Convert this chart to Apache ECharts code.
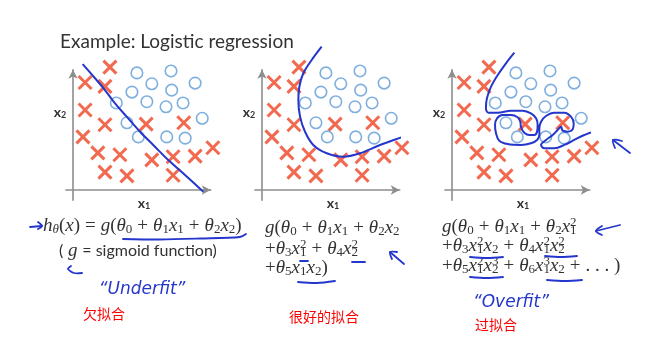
<!DOCTYPE html>
<html>
<head>
<meta charset="utf-8">
<script src="https://cdn.jsdelivr.net/npm/echarts@6/dist/echarts.min.js"></script>
<style>
html, body { margin: 0; padding: 0; background: #fff; }
#chart { width: 670px; height: 342px; }
</style>
</head>
<body>
<div id="chart"></div>
<script>
// Training examples in (x1, x2) feature space
const crossPoints = [
  [2.6, 9.6], [0.85, 8.4], [2.25, 8.1], [0.85, 6.25], [2.25, 5.1], [5.15, 5.15],
  [7.8, 5.25], [0.7, 4.15], [1.75, 2.9], [3.3, 2.75], [5.55, 2.35], [7.05, 2.6],
  [8.6, 2.65], [9.85, 3.3], [2.25, 1.4], [3.8, 1.1], [7.05, 1.15]
];
const circlePoints = [
  [4.5, 9.15], [6.9, 9.3], [5.55, 8.3], [8.6, 8.35], [4.15, 7.65], [6.95, 7.8],
  [3.05, 6.8], [5.2, 6.9], [6.55, 6.5], [7.75, 6.8], [9.1, 5.6], [3.8, 5.25],
  [4.6, 4.15], [6.6, 4.15], [7.9, 4.05]
];

// Decision boundaries of the three hypotheses
const underfitBoundary = [
  [0.68, 9.84], [1.55, 8.73], [2.25, 7.81], [2.96, 6.77], [3.78, 5.73],
  [4.72, 4.55], [5.65, 3.52], [6.71, 2.34], [7.89, 1.17], [9.18, -0.13]
];
const goodFitBoundary = [
  [4.2, 11.2], [3.5, 10.16], [2.91, 9.12], [2.63, 8.07], [2.56, 7.03], [2.68, 5.73],
  [3.03, 4.55], [3.61, 3.52], [4.56, 2.87], [5.73, 2.6], [6.9, 2.87], [8.31, 3.52],
  [9.95, 4.17], [11.48, 4.82]
];
const overfitBoundary = [
  [4.39, 10.73], [3.8, 9.9], [3.22, 8.98], [2.75, 8.07], [2.46, 7.16], [2.39, 6.38],
  [2.56, 6.04], [3.22, 6.04], [4.15, 6.2], [4.98, 6.2], [5.56, 5.99], [5.92, 5.6],
  [6.03, 5.08], [5.99, 4.56], [5.8, 4.3], [5.45, 4.3], [5.09, 4.48], [4.86, 4.9],
  [4.81, 5.34], [4.62, 5.68], [4.15, 5.86], [3.57, 5.86], [3.17, 5.6], [3.03, 5.08],
  [3.1, 4.43], [3.33, 3.85], [3.92, 3.59], [4.86, 3.52], [5.56, 3.65], [5.99, 3.91],
  [6.15, 4.3], [6.15, 4.82], [6.27, 5.34], [6.62, 5.78], [7.21, 6.04], [7.91, 6.04],
  [8.38, 5.73], [8.57, 5.21], [8.5, 4.74], [8.15, 4.56], [7.79, 4.64], [7.68, 4.95],
  [7.44, 4.69], [7.09, 4.3], [6.62, 3.91], [6.27, 3.52], [6.5, 3.26], [7.21, 3.26],
  [7.91, 3.52], [8.61, 3.91], [9.32, 4.3], [10.26, 4.64], [10.96, 4.69], [11.55, 5.16]
];
const boundaries = [underfitBoundary, goodFitBoundary, overfitBoundary];

// Text
const titleText = 'Example: Logistic regression';
const fitLabels = ['欠拟合', '很好的拟合', '过拟合'];
const handNotes = ['\u201CUnderfit\u201D', '\u201COverfit\u201D'];

const RED = '#ee4524';
const BLUE_O = '#5e9bd6';
const INK = '#2436cc';
const TXT = '#333333';

const panelOrigins = [73, 262, 452];
const PX_X = 14.2, PX_Y = 12.8, ORIGIN_Y = 190;
const X_MIN = -0.5, X_MAX = 9.7, Y_MIN = -0.8, Y_MAX = 9.4;

const grids = [], xAxes = [], yAxes = [], series = [];
panelOrigins.forEach((ox, i) => {
  grids.push({
    left: ox + X_MIN * PX_X,
    top: ORIGIN_Y - Y_MAX * PX_Y,
    width: (X_MAX - X_MIN) * PX_X,
    height: (Y_MAX - Y_MIN) * PX_Y
  });
  const axisLine = {
    show: true, onZero: true,
    symbol: ['none', 'arrow'], symbolSize: [7, 9],
    lineStyle: { color: '#8d8d8d', width: 1.6 }
  };
  xAxes.push({
    type: 'value', gridIndex: i, min: X_MIN, max: X_MAX,
    axisLine, axisTick: { show: false }, axisLabel: { show: false }, splitLine: { show: false }
  });
  yAxes.push({
    type: 'value', gridIndex: i, min: Y_MIN, max: Y_MAX,
    axisLine, axisTick: { show: false }, axisLabel: { show: false }, splitLine: { show: false }
  });
  series.push({
    type: 'line', xAxisIndex: i, yAxisIndex: i, data: boundaries[i],
    showSymbol: false, smooth: 0.35, clip: false, z: 4,
    lineStyle: { color: INK, width: 2 }
  });
  series.push({
    type: 'scatter', xAxisIndex: i, yAxisIndex: i, data: crossPoints,
    symbol: 'path://M0,0L10,10M0,10L10,0', symbolSize: 13, clip: false, z: 3,
    itemStyle: { color: 'rgba(0,0,0,0)', borderColor: RED, borderWidth: 3 }
  });
  series.push({
    type: 'scatter', xAxisIndex: i, yAxisIndex: i, data: circlePoints,
    symbol: 'circle', symbolSize: 11.5, clip: false, z: 3,
    itemStyle: { color: 'rgba(255,255,255,0)', borderColor: BLUE_O, borderWidth: 1.6 }
  });
});

// Rich-text styles for the hypothesis formulas
const SERIF = 'Liberation Serif';
const FS = 19, SFS = 13;
const rich = {
  i: { fontFamily: SERIF, fontStyle: 'italic', fontSize: FS, fill: TXT },
  r: { fontFamily: SERIF, fontSize: FS, fill: TXT },
  op: { fontFamily: SERIF, fontSize: FS, fill: TXT, padding: [0, 5, 0, 5] },
  sb: { fontFamily: SERIF, fontSize: SFS, fill: TXT, padding: [8, 0, 0, 0] },
  sbi: { fontFamily: SERIF, fontStyle: 'italic', fontSize: SFS, fill: TXT, padding: [8, 0, 0, 0] },
  sbz: { fontFamily: SERIF, fontSize: SFS, fill: TXT, padding: [8, 0, 0, 0], width: 0, align: 'left' },
  sp: { fontFamily: SERIF, fontSize: SFS, fill: TXT, padding: [0, 0, 9, 0] },
  t: { fontFamily: 'Lato', fontSize: 16, fill: TXT }
};
const th = n => '{i|θ}{sb|' + n + '}';
const xs = n => '{i|x}{sb|' + n + '}';
const xp = (n, p) => '{i|x}{sbz|' + n + '}{sp|' + p + '}';
const plus = '{op|+}';

const formulaLines = [
  { x: 43, y: 226, text: '{i|h}{sbi|θ}{r|(}{i|x}{r|)}{op|=}{i|g}{r|(}' + th(0) + plus + th(1) + xs(1) + plus + th(2) + xs(2) + '{r|)}' },
  { x: 59, y: 251, text: '{t|(}{i| g }{t|= sigmoid function)}' },
  { x: 265, y: 228, text: '{i|g}{r|(}' + th(0) + plus + th(1) + xs(1) + plus + th(2) + xs(2) },
  { x: 265, y: 249, text: '{r|+}' + th(3) + xp(1, 2) + plus + th(4) + xp(2, 2) },
  { x: 265, y: 268, text: '{r|+}' + th(5) + xs(1) + xs(2) + '{r|)}' },
  { x: 442, y: 227, text: '{i|g}{r|(}' + th(0) + plus + th(1) + xs(1) + plus + th(2) + xp(1, 2) },
  { x: 442, y: 246, text: '{r|+}' + th(3) + xp(1, 2) + xs(2) + plus + th(4) + xp(1, 2) + xp(2, 2) },
  { x: 442, y: 266, text: '{r|+}' + th(5) + xp(1, 2) + xp(2, 3) + plus + th(6) + xp(1, 3) + xs(2) + plus + '{r|. . . )}' }
];

const graphics = [];
graphics.push({
  type: 'text', x: 60, y: 42,
  style: { text: titleText, fontFamily: 'Lato', fontSize: 19, fill: TXT,
           align: 'left', verticalAlign: 'middle', textAlign: 'left', textVerticalAlign: 'middle' }
});
formulaLines.forEach(l => graphics.push({
  type: 'text', x: l.x, y: l.y,
  style: { text: l.text, rich, fontFamily: SERIF, fontSize: FS, fill: TXT,
           align: 'left', verticalAlign: 'middle', textAlign: 'left', textVerticalAlign: 'middle' }
}));

// Axis names
const axisRich = {
  a: { fontFamily: 'Lato', fontSize: 14, fontWeight: 'bold', fill: TXT },
  b: { fontFamily: 'Lato', fontSize: 9, fontWeight: 'bold', fill: TXT, padding: [6, 0, 0, 0] }
};
panelOrigins.forEach(ox => {
  graphics.push({ type: 'text', x: ox + 71, y: 203,
    style: { text: '{a|x}{b|1}', rich: axisRich, align: 'center', verticalAlign: 'middle', textAlign: 'center', textVerticalAlign: 'middle' } });
  graphics.push({ type: 'text', x: ox - 13, y: 112,
    style: { text: '{a|x}{b|2}', rich: axisRich, align: 'center', verticalAlign: 'middle', textAlign: 'center', textVerticalAlign: 'middle' } });
});

// Fit labels (red)
[[104, 314], [324, 317], [496, 325]].forEach((p, i) => graphics.push({
  type: 'text', x: p[0], y: p[1],
  style: { text: fitLabels[i], fontFamily: 'Noto Sans CJK SC', fontSize: 14, fill: '#ff0000',
           align: 'center', verticalAlign: 'middle', textAlign: 'center', textVerticalAlign: 'middle' }
}));

// Pen notes
[[142, 290], [511, 303]].forEach((p, i) => graphics.push({
  type: 'text', x: p[0], y: p[1],
  style: { text: handNotes[i], fontFamily: 'DejaVu Sans', fontStyle: 'italic', fontSize: 17, fill: INK,
           align: 'center', verticalAlign: 'middle', textAlign: 'center', textVerticalAlign: 'middle' }
}));

// Pen strokes: arrows and underlines
const strokes = [
  [[30, 227], [42, 226]], [[38, 222], [42, 226], [38, 229]],
  [[123, 239], [160, 239.5], [200, 238.5], [240, 237], [246, 234]],
  [[82, 273], [74, 273], [68, 269], [71, 266]],
  [[300, 261], [308, 261]], [[352, 262], [365, 262]],
  [[298, 282], [317, 283], [335, 281]],
  [[404, 264], [390, 252]], [[397, 252], [390, 252], [392, 259]],
  [[470, 257], [487, 258], [503, 257]], [[545, 256], [561, 257], [577, 256]],
  [[470, 277], [487, 278], [503, 277]], [[547, 280], [565, 281], [582, 280]],
  [[596, 231], [620, 225]], [[602, 226], [596, 231], [602, 235]],
  [[630, 153], [613, 140]], [[622, 141], [613, 140], [615, 148]]
];
strokes.forEach(pts => graphics.push({
  type: 'polyline', shape: { points: pts, smooth: 0.3 },
  style: { stroke: INK, lineWidth: 1.8, fill: null, lineCap: 'round', lineJoin: 'round' }
}));

const chart = echarts.init(document.getElementById('chart'), null, { renderer: 'canvas' });
chart.setOption({
  animation: false,
  backgroundColor: '#ffffff',
  grid: grids,
  xAxis: xAxes,
  yAxis: yAxes,
  series,
  graphic: { elements: graphics }
});
</script>
</body>
</html>
